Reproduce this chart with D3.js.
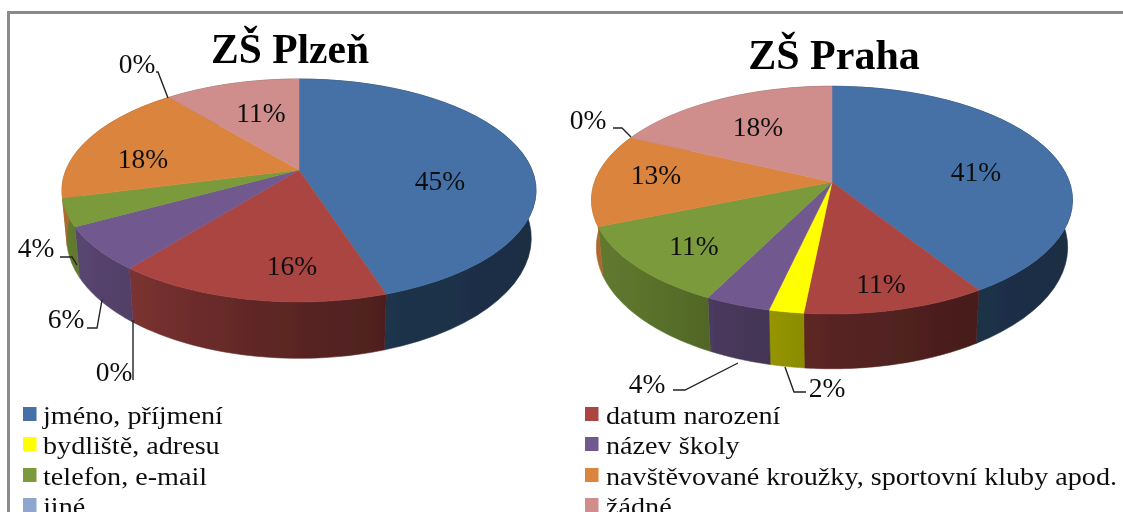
<!DOCTYPE html>
<html><head><meta charset="utf-8">
<script src="https://cdnjs.cloudflare.com/ajax/libs/d3/7.8.5/d3.min.js"></script>
<style>
html,body{margin:0;padding:0;background:#fff;overflow:hidden}
svg{display:block}
text{font-family:"Liberation Serif","Times New Roman",serif;fill:#111}
</style></head><body>
<svg id="c" width="1123" height="512"></svg>
<script>
const categories = ["jméno, příjmení","datum narození","bydliště, adresu","název školy","telefon, e-mail","navštěvované kroužky, sportovní kluby apod.","jiné","žádné"];
const plzenValues = [45,15.7,0,6.3,4,18,0,11];
const prahaValues = [41,10.6,2,3.8,11.4,13.2,0,18];
const colors = ["#4571a7","#aa4543","#ffff00","#71588f","#7a9a3b","#db843d","#8fa6cf","#cf8e8c"];
const titles = ["ZŠ Plzeň","ZŠ Praha"];

// layout (pixels), separate from the data
const pies = [
 {title:titles[0],values:plzenValues,cx:299,cy:170,A:233,B:107.7,p:.1838,depth:46,tx:290,ty:63,tf:41.5,
  labels:[[440,180],[292,265],[114,371],[66,318],[36,247],[143,158],[137,63],[261,112]],
  leaders:{2:[[133,380],[133,320]],3:[[87,328],[97,328],[102,300]],4:[[60,257],[72,257],[77,265]],6:[[156,72],[158,72],[168,98]]}},
 {title:titles[1],values:prahaValues,cx:832,cy:182,A:237.4,B:111,p:.1593,depth:46,tx:834,ty:69,tf:42,
  labels:[[976,171],[881,283],[827,387],[647,383],[694,245],[656,174],[588,119],[758,126]],
  leaders:{2:[[785,367],[794,392],[806,392]],3:[[673,390],[685,390],[738,363]],6:[[613,128],[622,128],[631,137]]}}
];
const legendCols=[{x:23,tx:43,items:[0,2,4,6]},{x:585,tx:606,items:[1,3,5,7]}];
const legendRows=[407,437,468,498];

const svg=d3.select("#c");
const defs=svg.append("defs");
defs.append("filter").attr("id","soft").attr("x",0).attr("y",0).attr("width",1).attr("height",1)
  .attr("filterUnits","objectBoundingBox").append("feGaussianBlur").attr("stdDeviation",.45);
const root=svg.append("g");
root.append("rect").attr("width",1123).attr("height",512).attr("fill","#fff");
root.append("path").attr("d","M8.5,512V12.5H1123").attr("fill","none").attr("stroke","#8a8a8a").attr("stroke-width",3);

const shade=d3.scaleLinear().domain([-1,-.7,-.13,.37,1]).range([.8,.72,.55,.45,.4]).clamp(true);
const pieGen=d3.pie().sort(null).value(d=>d);

pies.forEach((P,pi)=>{
  const g=root.append("g");
  const top=t=>{const a=Math.sin(t),b=-Math.cos(t),w=1-P.p*b;return [P.cx+P.A*a/w,P.cy+P.B*b/w,w];};
  const bot=t=>{const [x,y,w]=top(t);return [P.cx+(x-P.cx)*.98,y+P.depth/w];};
  const arcs=pieGen(P.values);
  const samples=(a)=>d3.range(0,41).map(i=>a.startAngle+(a.endAngle-a.startAngle)*i/40);
  // side walls
  arcs.forEach((a,i)=>{
    if(a.value===0)return;
    const ts=samples(a);
    const xs=ts.map(t=>top(t)[0]);
    const x0=d3.min(xs),x1=d3.max(xs);
    const id=`w${pi}-${i}`;
    const gr=defs.append("linearGradient").attr("id",id).attr("gradientUnits","userSpaceOnUse")
      .attr("x1",x0).attr("x2",x1).attr("y1",0).attr("y2",0);
    d3.range(0,5).forEach(k=>{
      const x=x0+(x1-x0)*k/4,c=d3.rgb(colors[i]),f=shade((x-P.cx)/(P.A*1.016));
      gr.append("stop").attr("offset",k/4).attr("stop-color",d3.rgb(c.r*f,c.g*f,c.b*f).formatHex());
    });
    const pts=ts.map(top).map(p=>[p[0],p[1]]).concat(ts.slice().reverse().map(bot));
    g.append("path").attr("d",d3.line()(pts)+"Z").attr("fill",`url(#${id})`).attr("stroke",`url(#${id})`).attr("stroke-width",.6);
  });
  // top faces
  arcs.forEach((a,i)=>{
    if(a.value===0)return;
    const pts=[[P.cx,P.cy]].concat(samples(a).map(top).map(p=>[p[0],p[1]]));
    g.append("path").attr("d",d3.line()(pts)+"Z").attr("fill",colors[i]).attr("stroke",colors[i]).attr("stroke-width",.5);
  });
  // leaders
  Object.entries(P.leaders).forEach(([k,pts])=>{
    g.append("path").attr("d",d3.line()(pts)).attr("fill","none").attr("stroke","#222").attr("stroke-width",1.4);
  });
  // labels
  arcs.forEach((a,i)=>{
    const [x,y]=P.labels[i];
    g.append("text").attr("x",x).attr("y",y+9.5).attr("text-anchor","middle").attr("font-size",27.5)
      .text(d3.format(".0f")(a.value)+"%");
  });
  g.append("text").attr("x",P.tx).attr("y",P.ty).attr("text-anchor","middle").attr("font-size",P.tf)
    .attr("font-weight","bold").style("fill","#000").text(P.title);
});

legendCols.forEach(col=>{
  col.items.forEach((c,r)=>{
    root.append("rect").attr("x",col.x).attr("y",legendRows[r]).attr("width",13.5).attr("height",14).attr("fill",colors[c]);
    root.append("text").attr("transform",`translate(${col.tx},${legendRows[r]+17}) scale(1.083,1)`).attr("font-size",26).text(categories[c]);
  });
});
root.attr("filter","url(#soft)");
</script></body></html>
